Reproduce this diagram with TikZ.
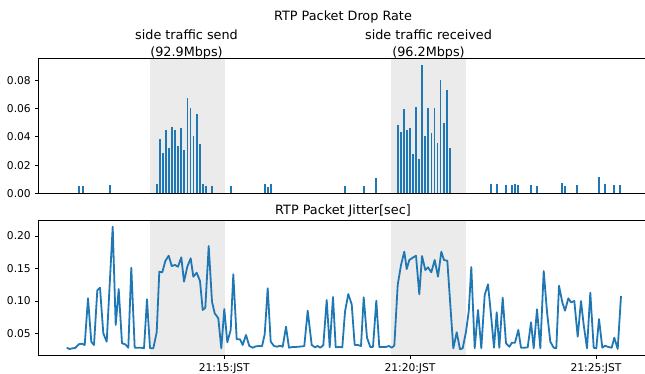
\documentclass[tikz,border=0pt]{standalone}
\usepackage{fontspec}
\setmainfont{DejaVu Sans}
\definecolor{lineblue}{HTML}{1F77B4}
\definecolor{spangray}{HTML}{EBEBEB}
\def\titlesize{\fontsize{12.8}{16.7}\selectfont}
\def\ticksize{\fontsize{10.7}{13}\selectfont}
\def\dropbar(#1:#2){\fill[lineblue] (#1-0.9,193.3) rectangle ({#1+0.9},{193.3-#2*1408});}
\tikzset{
	spine/.style={line width=1pt},
	tickmark/.style={line width=1pt},
	ylabel/.style={font=\ticksize, inner sep=0pt, anchor=base east, yshift=-3.9pt},
	xlabel/.style={font=\ticksize, inner sep=0pt, anchor=base},
	plottitle/.style={font=\titlesize, inner sep=0pt, anchor=base},
	spannote/.style={font=\titlesize, inner sep=0pt, anchor=south, align=center},
	jitterline/.style={draw=lineblue, line width=1.8pt, line join=round},
}

\begin{document}
\begin{tikzpicture}[x=1pt, y=-1pt]
			%%%%% START %%%%%
			\useasboundingbox (0,0) rectangle (645,374);
			
			% drop rate panel
			\fill[spangray] (150,58.3) rectangle (225,193.3);
			\fill[spangray] (391,58.3) rectangle (466,193.3);
			
			\dropbar(79:0.0052) \dropbar(82.7:0.0052) \dropbar(110:0.0059)
			\dropbar(156.6:0.0066) \dropbar(159.7:0.0385) \dropbar(162.8:0.0286) \dropbar(165.9:0.0448)
			\dropbar(168.9:0.032) \dropbar(172:0.047) \dropbar(175.1:0.0448) \dropbar(178.1:0.0335)
			\dropbar(181.2:0.0462) \dropbar(184.3:0.0307) \dropbar(187.4:0.0675) \dropbar(190.4:0.0604)
			\dropbar(193.5:0.0406) \dropbar(196.6:0.0562) \dropbar(199.6:0.035) \dropbar(202.7:0.0066)
			\dropbar(205.8:0.0052) \dropbar(211.7:0.0052) \dropbar(230.7:0.0052)
			\dropbar(264.7:0.0066) \dropbar(267.7:0.0045) \dropbar(270.7:0.0066)
			\dropbar(345:0.0052) \dropbar(364:0.0052) \dropbar(375.7:0.0109)
			\dropbar(397.7:0.0485) \dropbar(400.8:0.0436) \dropbar(403.8:0.0599) \dropbar(406.9:0.045)
			\dropbar(409.9:0.0464) \dropbar(413:0.028) \dropbar(416.1:0.0613) \dropbar(419.1:0.0246)
			\dropbar(422.2:0.0911) \dropbar(425.2:0.0407) \dropbar(428.3:0.0606) \dropbar(431.4:0.0431)
			\dropbar(434.4:0.0606) \dropbar(437.5:0.0357) \dropbar(440.5:0.0805) \dropbar(443.6:0.0502)
			\dropbar(446.7:0.0734) \dropbar(449.7:0.0322)
			\dropbar(490.7:0.0066) \dropbar(496.7:0.0066) \dropbar(505.7:0.006) \dropbar(511.7:0.006)
			\dropbar(514.7:0.0066) \dropbar(517.7:0.006) \dropbar(530.7:0.006) \dropbar(536.7:0.0052)
			\dropbar(562:0.0073) \dropbar(565:0.0052) \dropbar(576.7:0.006) \dropbar(598.7:0.0116)
			\dropbar(604.7:0.0066) \dropbar(613.7:0.006) \dropbar(619.7:0.006)
			
			\draw[spine] (646,58.3) -- (38.5,58.3) -- (38.5,193.3) -- (646,193.3);
			
			\draw[tickmark] (34.8,193.3) -- (38.5,193.3);
			\draw[tickmark] (34.8,165.2) -- (38.5,165.2);
			\draw[tickmark] (34.8,137) -- (38.5,137);
			\draw[tickmark] (34.8,108.8) -- (38.5,108.8);
			\draw[tickmark] (34.8,80.7) -- (38.5,80.7);
			\node[ylabel] (d000) at (31,193.3) {0.00};
			\node[ylabel] (d002) at (31,165.2) {0.02};
			\node[ylabel] (d004) at (31,137) {0.04};
			\node[ylabel] (d006) at (31,108.8) {0.06};
			\node[ylabel] (d008) at (31,80.7) {0.08};
			
			\node[plottitle] (droptitle) at (343,20.5) {RTP Packet Drop Rate};
			\node[spannote] (sendnote) at (186.5,59.3) {side traffic send\\(92.9Mbps)};
			\node[spannote] (recvnote) at (428.5,59.3) {side traffic received\\(96.2Mbps)};
			
			% jitter panel
			\fill[spangray] (149.7,220.5) rectangle (224.7,355.5);
			\fill[spangray] (391,220.5) rectangle (466,355.5);
			
			\draw[jitterline] (66.7,347.7) -- (69.3,349) -- (72.7,348.3) -- (75.3,348) -- (78.7,344.3) -- (82,343.7)
				-- (84.7,345) -- (88,298.3) -- (91.3,341.7) -- (94,345) -- (97.3,290.3) -- (100,287.7)
				-- (103.3,333.3) -- (106.7,341.7) -- (112.7,226.7) -- (115.7,325) -- (118.7,289) -- (122,343.3)
				-- (125.3,344.3) -- (128.3,347.7) -- (131.3,267.7) -- (134.7,347.7) -- (138,347.7) -- (141.3,347.7)
				-- (144,348.3) -- (147,299.3) -- (150,348.3) -- (153.3,348.3) -- (156.7,332.3) -- (159.3,271.7)
				-- (162.3,272.3) -- (165.3,261) -- (168.7,255.7) -- (171.7,266) -- (175,265) -- (178,266.7)
				-- (181.3,257.3) -- (184,281.7) -- (187.3,266.7) -- (190.7,258.3) -- (193.3,276.7) -- (196.7,272.7)
				-- (200,281) -- (202.7,310) -- (205.3,307.7) -- (208.7,246) -- (212,301.7) -- (214.7,313.3)
				-- (218.3,318.3) -- (221.3,348.3) -- (224.3,309) -- (227.3,342.3) -- (230.7,330) -- (233.3,274.3)
				-- (236.7,339.3) -- (240,339.3) -- (242.7,345) -- (246,335) -- (249.3,346) -- (252.7,347.7)
				-- (256,346.3) -- (259.3,346) -- (262,346.3) -- (264.7,334.3) -- (267.7,288.3) -- (270.7,341.7)
				-- (274,346) -- (277.3,346.7) -- (280,345.7) -- (282.7,346.7) -- (286,326.7) -- (289,347.7)
				-- (292.3,347) -- (295.3,347) -- (298.3,346.7) -- (301.3,346.5) -- (304.3,346) -- (307.7,310.7)
				-- (311.7,345) -- (315,347.3) -- (317.7,346) -- (320.3,347.7) -- (323.3,345.3) -- (326.7,300)
				-- (329.7,347.3) -- (333,297) -- (335.7,347.3) -- (339,347) -- (342.3,347.3) -- (345,311.7)
				-- (348.3,294) -- (351.7,304.3) -- (354.7,345) -- (357.7,345) -- (361,346) -- (363.7,297.3)
				-- (367,337.7) -- (370.3,347) -- (373,347) -- (376.3,300.7) -- (379.3,347) -- (382.3,347)
				-- (385.7,347) -- (389,346) -- (391.7,347.7) -- (394.3,345.7) -- (397.7,285) -- (401,265)
				-- (404.3,251.7) -- (406.7,269) -- (409.3,260) -- (412.7,257.7) -- (416,255.7) -- (419.3,294.3)
				-- (422,256) -- (425.3,270) -- (428,267.3) -- (431.3,272.3) -- (434.7,260) -- (438,276.7)
				-- (441.3,251.7) -- (444,260) -- (447.3,260.7) -- (453.3,348.3) -- (456.7,332.3) -- (460,349.3)
				-- (462.7,348.3) -- (466,331.7) -- (468.7,311.7) -- (471.3,267) -- (474.7,348.3) -- (478,310)
				-- (481.3,348.3) -- (484.7,295) -- (488,284.3) -- (490.7,311.7) -- (494,347.7) -- (496.7,312.3)
				-- (499.3,347.7) -- (502.7,297.7) -- (506,343.3) -- (509.3,346.7) -- (512,342.7) -- (515,342.7)
				-- (518.3,330) -- (521,347.7) -- (524.3,347.7) -- (527.7,347.3) -- (531,322.3) -- (533.7,348.3)
				-- (537,309.3) -- (540.3,348.3) -- (543.7,271) -- (547,311.7) -- (550.3,341.7) -- (553.7,347.7)
				-- (556.3,348.3) -- (559,285.7) -- (562.3,302.3) -- (565,310.7) -- (568.3,298.3) -- (571,302.3)
				-- (574.3,301) -- (577.7,336.7) -- (581,301) -- (583.7,325) -- (587,348.3) -- (590.3,292.7)
				-- (593.7,347.7) -- (596.3,348.3) -- (599,319) -- (602.3,347.7) -- (605,345.7) -- (608.3,347)
				-- (611.7,347.7) -- (614.3,337.7) -- (617.7,349) -- (621,296);
			
			\draw[spine] (646,220.5) -- (38.5,220.5) -- (38.5,355.5) -- (646,355.5);
			
			\draw[tickmark] (34.8,333.3) -- (38.5,333.3);
			\draw[tickmark] (34.8,301) -- (38.5,301);
			\draw[tickmark] (34.8,268.5) -- (38.5,268.5);
			\draw[tickmark] (34.8,236) -- (38.5,236);
			\node[ylabel] (j005) at (31,333.3) {0.05};
			\node[ylabel] (j010) at (31,301) {0.10};
			\node[ylabel] (j015) at (31,268.5) {0.15};
			\node[ylabel] (j020) at (31,236) {0.20};
			
			\draw[tickmark] (224.3,355.5) -- (224.3,359.2);
			\draw[tickmark] (410,355.5) -- (410,359.2);
			\draw[tickmark] (596,355.5) -- (596,359.2);
			\node[xlabel] (t1515) at (224.3,371.5) {21:15:JST};
			\node[xlabel] (t1520) at (410,371.5) {21:20:JST};
			\node[xlabel] (t1525) at (596,371.5) {21:25:JST};
			
			\node[plottitle] (jittertitle) at (343,214.3) {RTP Packet Jitter[sec]};
			
			%%%%% END %%%%%
\end{tikzpicture}
\end{document}
